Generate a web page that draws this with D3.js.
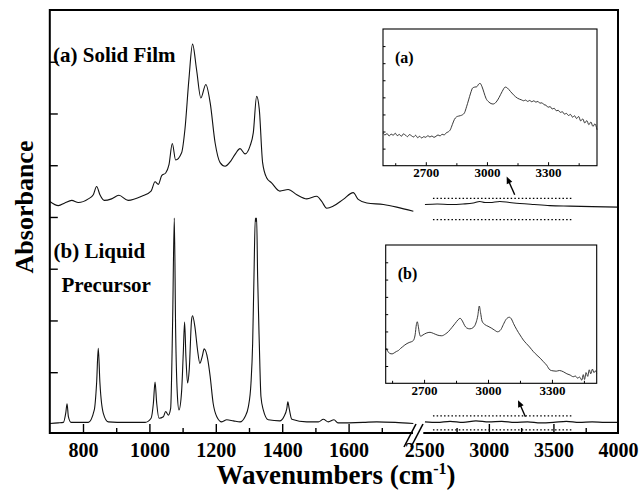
<!DOCTYPE html>
<html><head><meta charset="utf-8">
<script src="https://cdn.jsdelivr.net/npm/d3@7"></script>
<style>
body{margin:0;background:#fff}
svg{display:block}
text{font-family:"Liberation Serif","Times New Roman",serif;font-weight:bold;fill:#000}
</style>
</head><body>
<svg id="c" width="641" height="491"></svg>
<script>
// ---------------- DATA ----------------
// (a) Solid film, low-wavenumber segment [wavenumber, absorbance (offset units)]
const filmLow = [[700,4.30],[726,4.22],[745,4.27],[766,4.32],[786,4.28],[816,4.35],[831,4.43],[841,4.59],[851,4.43],[864,4.32],[886,4.35],[908,4.42],[936,4.32],[977,4.40],[1005,4.50],[1017,4.68],[1027,4.63],[1037,4.80],[1049,4.85],[1059,5.01],[1069,5.42],[1079,5.10],[1097,5.24],[1107,5.69],[1119,6.66],[1130,7.34],[1142,6.85],[1155,6.30],[1170,6.56],[1183,6.21],[1198,5.43],[1213,5.05],[1228,4.98],[1245,5.08],[1258,5.21],[1273,5.32],[1288,5.22],[1303,5.37],[1313,5.63],[1323,6.33],[1331,6.08],[1341,5.05],[1353,4.76],[1368,4.66],[1393,4.50],[1418,4.53],[1444,4.43],[1474,4.35],[1504,4.40],[1519,4.30],[1534,4.17],[1554,4.21],[1584,4.34],[1614,4.47],[1629,4.34],[1655,4.27],[1705,4.24],[1745,4.19],[1795,4.11]];
// (a) Solid film, high-wavenumber segment
const filmHigh = [[2505,4.24],[2600,4.25],[2700,4.24],[2800,4.25],[2880,4.27],[2930,4.30],[2970,4.28],[3008,4.28],[3085,4.30],[3160,4.28],[3240,4.26],[3350,4.24],[3472,4.22],[3627,4.21],[3800,4.20],[4000,4.19]];
// (b) Liquid precursor, low-wavenumber segment
const liquidLow = [[700,0.01],[725,0.02],[741,0.03],[748,0.21],[752,0.39],[756,0.14],[764,0.03],[816,0.03],[834,0.27],[841,0.79],[846,1.46],[851,0.79],[861,0.21],[876,0.04],[930,0.03],[987,0.03],[1005,0.11],[1012,0.40],[1017,0.81],[1022,0.40],[1029,0.11],[1042,0.14],[1049,0.24],[1057,0.17],[1064,0.30],[1070,2.00],[1075,3.98],[1079,1.82],[1084,0.59],[1089,0.27],[1097,0.63],[1102,1.36],[1106,1.97],[1110,1.30],[1115,0.79],[1120,1.05],[1127,2.01],[1130,2.09],[1137,1.88],[1145,1.43],[1152,1.17],[1159,1.30],[1165,1.45],[1176,1.24],[1183,0.92],[1192,0.40],[1203,0.14],[1218,0.04],[1233,0.08],[1253,0.06],[1273,0.04],[1288,0.14],[1298,0.33],[1306,0.79],[1311,1.56],[1315,2.85],[1319,3.98],[1321,3.92],[1323,3.98],[1326,2.85],[1331,1.56],[1336,0.53],[1343,0.27],[1358,0.08],[1393,0.06],[1405,0.14],[1414,0.30],[1417,0.43],[1421,0.30],[1429,0.09],[1474,0.04],[1509,0.04],[1524,0.09],[1539,0.04],[1556,0.08],[1568,0.02],[1644,0.03],[1685,0.04],[1740,0.03],[1795,0.01]];
// (b) Liquid precursor, high-wavenumber segment
const liquidHigh = [[2505,0.04],[2600,0.03],[2700,0.05],[2800,0.03],[2900,0.06],[3000,0.04],[3100,0.05],[3200,0.03],[3300,0.04],[3400,0.02],[3500,0.03],[3600,0.05],[3700,0.03],[3800,0.04],[3900,0.03],[4000,0.03]];
// Inset (a): zoom of solid film 2490-3540
const insetA = [[2490,1.92],[2500,1.80],[2510,1.88],[2520,1.74],[2530,1.85],[2540,1.78],[2550,1.90],[2560,1.76],[2570,1.83],[2580,1.72],[2590,1.86],[2600,1.79],[2610,1.70],[2620,1.82],[2630,1.75],[2640,1.68],[2650,1.78],[2660,1.64],[2670,1.72],[2680,1.62],[2690,1.70],[2700,1.66],[2710,1.76],[2720,1.68],[2730,1.74],[2740,1.66],[2750,1.72],[2760,1.80],[2770,1.74],[2780,1.84],[2790,1.80],[2800,1.92],[2810,1.98],[2820,2.10],[2830,2.40],[2840,2.70],[2850,2.85],[2860,2.90],[2870,2.93],[2880,2.98],[2890,3.10],[2900,3.45],[2910,3.85],[2920,4.25],[2930,4.55],[2940,4.60],[2950,4.62],[2960,4.78],[2966,4.82],[2975,4.65],[2985,4.30],[2995,3.95],[3010,3.72],[3030,3.61],[3045,3.72],[3060,4.00],[3075,4.35],[3090,4.60],[3100,4.55],[3115,4.35],[3130,4.15],[3150,3.95],[3170,3.85],[3180,3.80],[3190,3.84],[3200,3.76],[3210,3.82],[3220,3.74],[3230,3.80],[3240,3.72],[3250,3.76],[3260,3.66],[3270,3.68],[3280,3.57],[3290,3.54],[3300,3.42],[3310,3.46],[3320,3.32],[3330,3.36],[3340,3.22],[3350,3.24],[3360,3.12],[3370,3.16],[3380,3.02],[3390,3.06],[3400,2.94],[3410,3.00],[3420,2.84],[3430,2.92],[3440,2.76],[3450,2.88],[3460,2.62],[3470,2.74],[3480,2.50],[3490,2.64],[3500,2.40],[3510,2.56],[3520,2.30],[3530,2.45],[3540,2.10]];
// Inset (b): zoom of liquid precursor 2520-3510
const insetB = [[2520,2.05],[2530,1.85],[2540,1.72],[2550,1.70],[2560,1.76],[2570,1.84],[2580,1.90],[2590,2.02],[2600,2.12],[2610,2.22],[2620,2.30],[2630,2.36],[2640,2.40],[2650,2.48],[2658,2.80],[2664,3.40],[2668,3.56],[2673,3.30],[2678,2.90],[2684,2.72],[2695,2.80],[2710,2.90],[2728,2.95],[2745,2.88],[2765,2.78],[2783,2.75],[2800,2.85],[2815,3.00],[2830,3.22],[2845,3.45],[2860,3.68],[2869,3.76],[2880,3.60],[2890,3.35],[2900,3.20],[2915,3.15],[2930,3.22],[2945,3.55],[2952,3.90],[2959,4.47],[2965,4.10],[2972,3.60],[2985,3.40],[3000,3.30],[3015,3.20],[3030,3.08],[3045,2.98],[3060,3.10],[3072,3.40],[3085,3.70],[3100,3.82],[3110,3.72],[3120,3.45],[3135,3.10],[3150,2.80],[3166,2.50],[3180,2.30],[3195,2.10],[3213,1.83],[3230,1.62],[3245,1.45],[3260,1.25],[3275,1.05],[3291,0.77],[3305,0.72],[3320,0.70],[3335,0.74],[3353,0.67],[3370,0.55],[3385,0.48],[3400,0.38],[3410,0.42],[3420,0.30],[3430,0.36],[3440,0.18],[3447,0.50],[3453,0.22],[3460,0.62],[3468,0.40],[3475,0.78],[3482,0.55],[3490,0.82],[3497,0.62],[3505,0.72],[3510,0.58]];

// Tick values / labels
const lowMajorTicks = [800,1000,1200,1400,1600];
const lowMinorTicks = [900,1100,1300,1500,1700];
const highMajorTicks = [2500,3000,3500,4000];
const highMinorTicks = [2750,3250,3750];
const yTicks = [1,2,3,4,5,6,7];
const insetLabelTicks = [2700,3000,3300];
const insetMinorTicks = [2550,2850,3150,3450];
const insetYTicks = [1,2,3,4,5,6,7];
const xTitle = "Wavenumbers (cm";
const yTitle = "Absorbance";
const labelA = "(a) Solid Film";
const labelB1 = "(b) Liquid";
const labelB2 = "Precursor";

// ---------------- LAYOUT ----------------
const svg = d3.select("#c");
svg.append("rect").attr("width",641).attr("height",491).attr("fill","#fff");
const L=49.8, R=618, T=10, B=433, BRK1=415, BRK2=424.3;
const xLow = d3.scaleLinear().domain([700,1800]).range([L,BRK1]);
const xHigh = d3.scaleLinear().domain([2500,4000]).range([BRK2,R]);
const y = d3.scaleLinear().domain([-0.175,8.0]).range([B,T]);

const mkLine = (xs, ys) => d3.line().x(d=>xs(d[0])).y(d=>ys(d[1])).curve(d3.curveMonotoneX);

// spectra
const spec = svg.append("g").attr("fill","none").attr("stroke","#111").attr("stroke-width",1.1).attr("stroke-linejoin","round");
spec.append("path").datum(filmLow).attr("d", mkLine(xLow,y));
spec.append("path").datum(filmHigh).attr("d", mkLine(xHigh,y));
spec.append("path").datum(liquidLow).attr("d", mkLine(xLow,y));
spec.append("path").datum(liquidHigh).attr("d", mkLine(xHigh,y));

// dotted zoom boxes + arrows
function zoomBox(w0,w1,v0,v1){
  const g = svg.append("g").attr("stroke","#000").attr("stroke-width",1.3).attr("stroke-dasharray","1.5,2.2").attr("fill","none");
  [v0,v1].forEach(v=>g.append("line").attr("x1",xHigh(w0)).attr("x2",xHigh(w1)).attr("y1",y(v)).attr("y2",y(v)));
}
zoomBox(2567,3640,4.36,3.95);
zoomBox(2567,3640,0.155,-0.116);
function arrow(wt,vt,wh,vh){
  const x1=xHigh(wt), y1=y(vt), x2=xHigh(wh), y2=y(vh);
  const ang=Math.atan2(y2-y1,x2-x1), len=7, wd=3;
  svg.append("line").attr("x1",x1).attr("y1",y1).attr("x2",x2-Math.cos(ang)*4).attr("y2",y2-Math.sin(ang)*4).attr("stroke","#000").attr("stroke-width",1.4);
  const bx=x2-Math.cos(ang)*len, by=y2-Math.sin(ang)*len;
  const px=-Math.sin(ang)*wd, py=Math.cos(ang)*wd;
  svg.append("path").attr("d",`M${x2},${y2}L${bx+px},${by+py}L${bx-px},${by-py}Z`).attr("fill","#000");
}
arrow(3200,4.43,3138,4.78);
arrow(3283,0.14,3226,0.46);

// axes
function styleAxis(g){ g.select(".domain").remove(); g.selectAll(".tick line").attr("stroke","#000").attr("stroke-width",1.4); }
const axG = svg.append("g").attr("transform",`translate(0,${B})`);
[[xLow,lowMajorTicks,-9,true],[xLow,lowMinorTicks,-5,false],[xHigh,highMajorTicks.filter(d=>d!==2500&&d!==4000),-9,false],[xHigh,highMinorTicks,-5,false]].forEach(([sc,tv,ts,lab])=>{
  const g = axG.append("g").call(d3.axisBottom(sc).tickValues(tv).tickSize(ts).tickFormat(lab?d3.format("d"):""));
  styleAxis(g);
});
// labels for high segment (including ends)
const labG = axG.append("g").call(d3.axisBottom(xHigh).tickValues(highMajorTicks).tickSize(0).tickFormat(d3.format("d")));
labG.select(".domain").remove(); labG.selectAll(".tick line").remove();
axG.selectAll("text").attr("y",24).attr("dy",null).attr("font-size",20).attr("font-family",'"Liberation Serif",serif').attr("font-weight","bold").attr("fill","#000");

const yG = svg.append("g").attr("transform",`translate(${L},0)`).call(d3.axisLeft(y).tickValues(yTicks).tickSize(-8).tickFormat(""));
styleAxis(yG);

// frame
const fr = svg.append("g").attr("stroke","#000").attr("stroke-width",2).attr("fill","none");
fr.append("path").attr("d",`M${BRK1-2},${B}H${L}V${T}H${R}V${B}H${BRK2-1}`);
// break marks
fr.append("line").attr("x1",BRK1-11).attr("y1",B+14).attr("x2",BRK1+1).attr("y2",B-9).attr("stroke-width",1.6);
fr.append("line").attr("x1",BRK1-4).attr("y1",B+14).attr("x2",BRK1+8).attr("y2",B-9).attr("stroke-width",1.6);

// titles
svg.append("text").attr("x",336).attr("y",484).attr("text-anchor","middle").attr("font-size",27)
  .text(xTitle).append("tspan").attr("dy",-10).attr("font-size",16).text("-1")
  .clone(true).attr("dy",10).attr("font-size",27).text(")");
svg.append("text").attr("transform","translate(33,207) rotate(-90)").attr("text-anchor","middle").attr("font-size",26).text(yTitle);
svg.append("text").attr("x",53).attr("y",61.5).attr("font-size",21).text(labelA);
svg.append("text").attr("x",53.5).attr("y",258).attr("font-size",21).text(labelB1);
svg.append("text").attr("x",61.5).attr("y",292).attr("font-size",21).text(labelB2);

// insets
function inset(data, x0,x1,y0,y1, dom, label){
  const xs = d3.scaleLinear().domain(dom).range([x0,x1]);
  const ys = d3.scaleLinear().domain([0,8]).range([y1,y0]);
  const g = svg.append("g");
  g.append("rect").attr("x",x0).attr("y",y0).attr("width",x1-x0).attr("height",y1-y0).attr("fill","#fff").attr("stroke","#000").attr("stroke-width",1.1);
  g.append("path").datum(data).attr("d",mkLine(xs,ys)).attr("fill","none").attr("stroke","#222").attr("stroke-width",0.9);
  const ax = g.append("g").attr("transform",`translate(0,${y1})`).call(d3.axisBottom(xs).tickValues(insetLabelTicks).tickSize(-3.5).tickFormat(d3.format("d")));
  ax.select(".domain").remove();
  ax.selectAll("line").attr("stroke","#000");
  ax.selectAll("text").attr("y",11.5).attr("dy",null).attr("font-size",13).attr("font-family",'"Liberation Serif",serif').attr("font-weight","bold").attr("fill","#000");
  const ax2 = g.append("g").attr("transform",`translate(0,${y1})`).call(d3.axisBottom(xs).tickValues(insetMinorTicks).tickSize(-2.5).tickFormat(""));
  ax2.select(".domain").remove(); ax2.selectAll("line").attr("stroke","#000");
  const ay = g.append("g").attr("transform",`translate(${x0},0)`).call(d3.axisLeft(ys).tickValues(insetYTicks).tickSize(-2.5).tickFormat(""));
  ay.select(".domain").remove(); ay.selectAll("line").attr("stroke","#000");
  g.append("text").attr("x",x0+12).attr("y",y0+33.5).attr("font-size",16).text(label);
}
inset(insetA, 383,597,29,165.7,[2490,3540],"(a)");
inset(insetB, 385.7,596.7,245,383.3,[2520,3510],"(b)");
</script>
</body></html>
